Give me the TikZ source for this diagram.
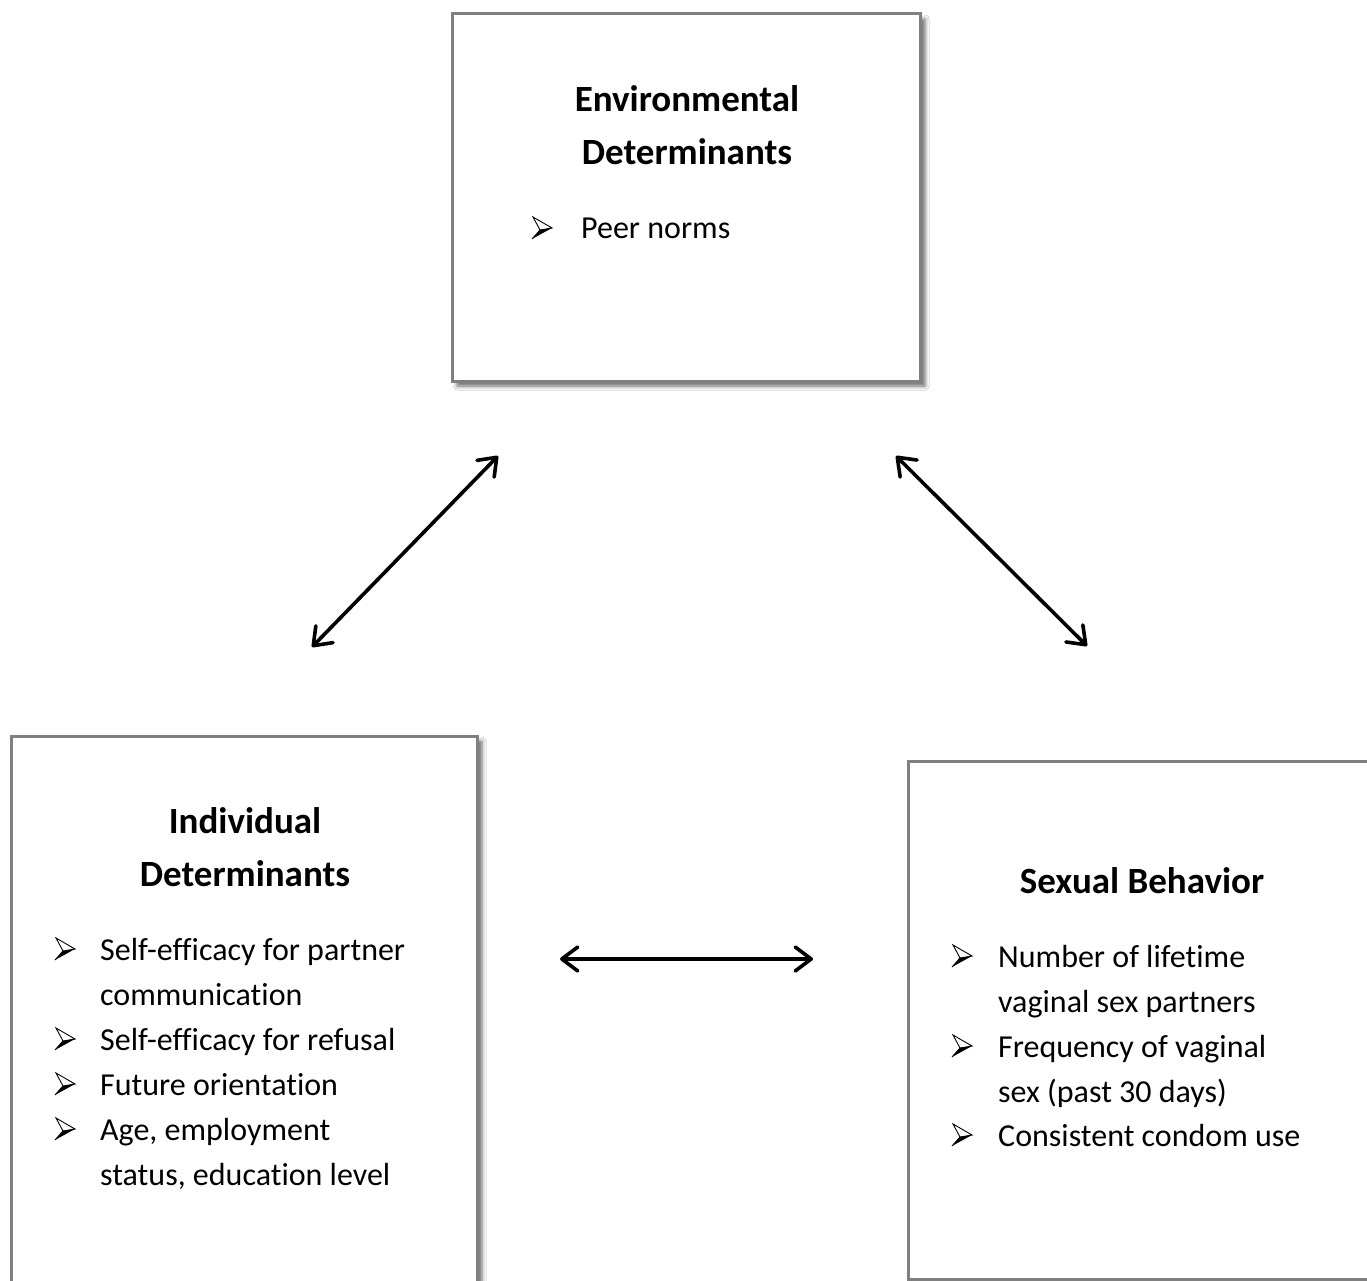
\documentclass[tikz,border=0pt]{standalone}
\usepackage{fontspec}
\setmainfont[Ligatures=NoCommon]{Carlito}
\usetikzlibrary{arrows.meta,shadows.blur}
\definecolor{boxgray}{HTML}{808080}
\newcommand\mybullet[2]{%
  \begin{scope}[shift={(#1,#2)}]
    \draw[line width=0.9pt,fill=white,line join=miter] (1,-22) -- (20,-11) -- (8,-9) -- cycle;
    \fill[black] (8,-9) -- (20,-11) -- (0,0) -- cycle;
    \draw[line width=0.9pt] (0,0) -- (8,-9);
  \end{scope}}
\begin{document}
\begin{tikzpicture}[x=1pt,y=-1pt,
  panel/.style={draw=boxgray,line width=3pt,fill=white,rectangle,inner sep=0pt,
    blur shadow={shadow xshift=5pt,shadow yshift=-5pt,shadow blur radius=4pt,shadow opacity=60}},
  head/.style={inner sep=0pt,anchor=base,font=\fontsize{37}{53}\selectfont\bfseries},
  item/.style={inner sep=0pt,anchor=base west,font=\fontsize{32}{44}\selectfont},
  dbl/.style={line width=3.6pt,line cap=round,
    {Straight Barb[length=16pt,width=24pt,round]}-{Straight Barb[length=16pt,width=24pt,round]}}]
\useasboundingbox (0,0) rectangle (1367,1281);
\fill[white] (0,0) rectangle (1367,1281);
% boxes
\node[panel,minimum width=468pt,minimum height=367pt] (envbox) at (686,197.5) {};
\node[panel,minimum width=466pt,minimum height=564pt] (indbox) at (244,1018) {};
\node[panel,minimum width=482pt,minimum height=518pt] (sexbox) at (1149,1020) {};
% top box text
\node[head] (envh1) at (687,112) {Environmental};
\node[head] (envh2) at (687,165) {Determinants};
\mybullet{532}{239}
\node[item] (env1) at (581,239) {Peer norms};
% left box text
\node[head] (indh1) at (245,833) {Individual};
\node[head] (indh2) at (245,886) {Determinants};
\mybullet{55}{960}
\node[item] (ind1) at (100,960) {Self-efficacy for partner};
\node[item] (ind2) at (100,1005) {communication};
\mybullet{55}{1050}
\node[item] (ind3) at (100,1050) {Self-efficacy for refusal};
\mybullet{55}{1095}
\node[item] (ind4) at (100,1095) {Future orientation};
\mybullet{55}{1140}
\node[item] (ind5) at (100,1140) {Age, employment};
\node[item] (ind6) at (100,1185) {status, education level};
% right box text
\node[head] (sexh1) at (1142,893) {Sexual Behavior};
\mybullet{952}{967}
\node[item] (sex1) at (998,967) {Number of lifetime};
\node[item] (sex2) at (998,1012) {vaginal sex partners};
\mybullet{952}{1057}
\node[item] (sex3) at (998,1057) {Frequency of vaginal};
\node[item] (sex4) at (998,1102) {sex (past 30 days)};
\mybullet{952}{1146}
\node[item] (sex5) at (998,1146) {Consistent condom use};
% arrows
\coordinate (a1s) at (312,647);
\coordinate (a1e) at (498,456);
\coordinate (a2s) at (896,456);
\coordinate (a2e) at (1087,646);
\coordinate (a3s) at (560,959);
\coordinate (a3e) at (813,959);
\draw[dbl] (a1s) -- (a1e);
\draw[dbl] (a2s) -- (a2e);
\draw[dbl] (a3s) -- (a3e);
\end{tikzpicture}
\end{document}
